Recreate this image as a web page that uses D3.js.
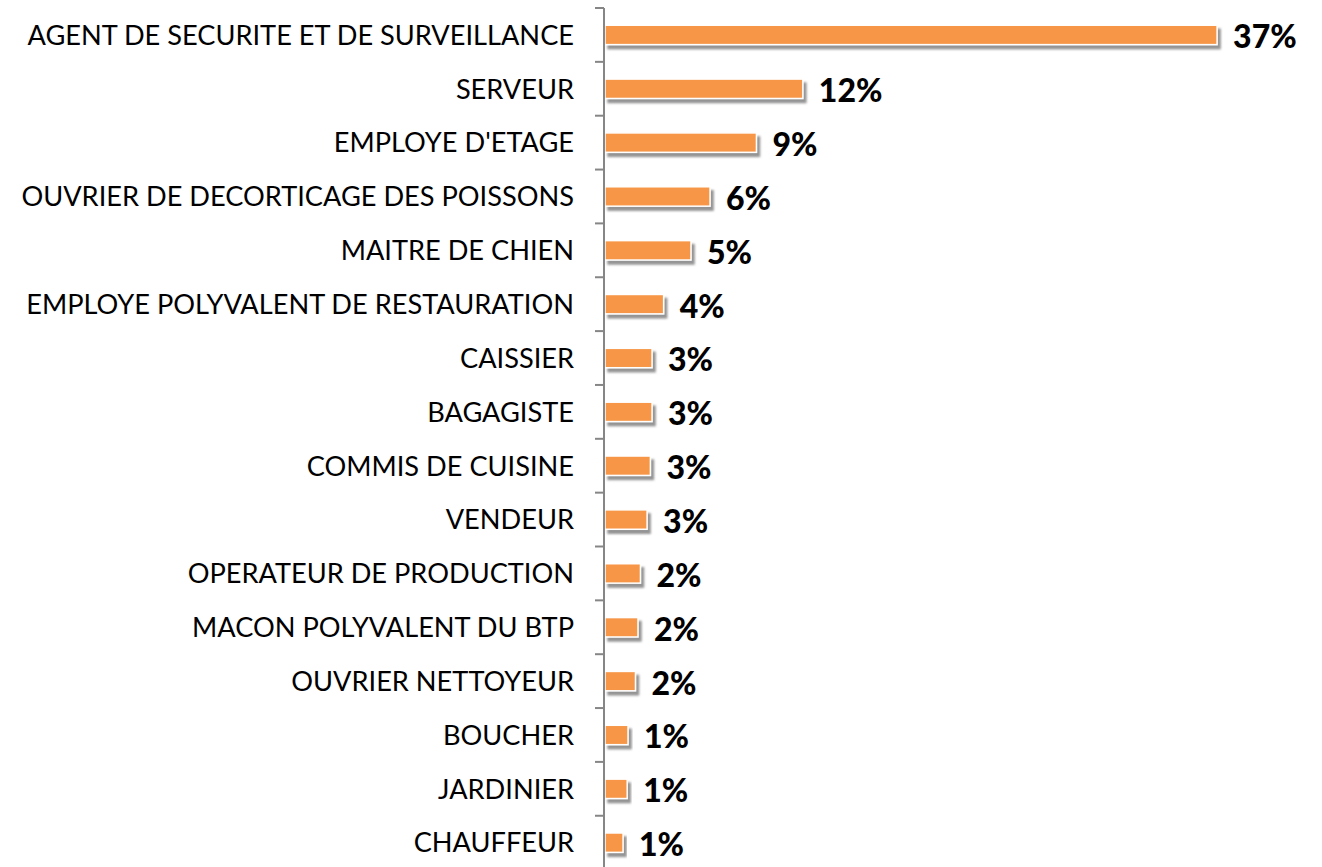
<!DOCTYPE html>
<html>
<head>
<meta charset="utf-8">
<script src="https://cdn.jsdelivr.net/npm/d3@7"></script>
<style>
  html, body { margin: 0; padding: 0; background: #fff; }
  svg { display: block; }
</style>
</head>
<body>
<svg id="chart" width="1322" height="867"></svg>
<script>
// Job titles, top to bottom
const categories = [
  "AGENT DE SECURITE ET DE SURVEILLANCE",
  "SERVEUR",
  "EMPLOYE D'ETAGE",
  "OUVRIER DE DECORTICAGE DES POISSONS",
  "MAITRE DE CHIEN",
  "EMPLOYE POLYVALENT DE RESTAURATION",
  "CAISSIER",
  "BAGAGISTE",
  "COMMIS DE CUISINE",
  "VENDEUR",
  "OPERATEUR DE PRODUCTION",
  "MACON POLYVALENT DU BTP",
  "OUVRIER NETTOYEUR",
  "BOUCHER",
  "JARDINIER",
  "CHAUFFEUR"
];
// Share of each job (percent)
const shares = [37.0, 12.0, 9.2, 6.4, 5.25, 3.6, 2.9, 2.9, 2.8, 2.6, 2.2, 2.05, 1.9, 1.45, 1.4, 1.15];

const data = categories.map((c, i) => ({ name: c, value: shares[i] }));

const svg = d3.select("#chart");
const axisX = 604;
const plotTop = 8, step = 53.85;

const y = d3.scaleBand()
  .domain(categories)
  .range([plotTop, plotTop + step * categories.length])
  .paddingInner(0.64)
  .paddingOuter(0.32);

const x = d3.scaleLinear()
  .domain([0, 40])
  .range([axisX, axisX + 40 * 16.57]);

const defs = svg.append("defs");
const f = defs.append("filter").attr("id", "shadow")
  .attr("x", "-10%").attr("y", "-50%").attr("width", "130%").attr("height", "250%");
f.append("feDropShadow")
  .attr("dx", 3).attr("dy", 4).attr("stdDeviation", 1.2)
  .attr("flood-color", "#707070").attr("flood-opacity", 0.75);

// Bars
svg.append("g").selectAll("rect")
  .data(data)
  .join("rect")
  .attr("x", x(0) + 1)
  .attr("y", d => y(d.name))
  .attr("width", d => x(d.value) - x(0) - 1)
  .attr("height", y.bandwidth())
  .attr("fill", "#F79646")
  .attr("stroke", "#ffffff")
  .attr("stroke-width", 1.5)
  .attr("filter", "url(#shadow)");

// Category axis
const axis = d3.axisLeft(y).tickSize(0).tickPadding(30);
const gAxis = svg.append("g")
  .attr("transform", `translate(${axisX},0)`)
  .call(axis);
gAxis.select(".domain").remove();
gAxis.selectAll("text")
  .attr("font-family", "Lato, 'Open Sans', sans-serif")
  .attr("font-size", 24)
  .attr("fill", "#000");

// Fit the category labels to the available width
const longest = d3.max(gAxis.selectAll("text").nodes(), n => n.getComputedTextLength());
const fs = 24 * 553 / longest;
gAxis.selectAll("text").attr("font-size", fs).attr("dy", "0.36em");

// Axis line and ticks between categories
const axisG = svg.append("g").attr("stroke", "#868686").attr("stroke-width", 2);
axisG.append("line")
  .attr("x1", axisX).attr("x2", axisX)
  .attr("y1", plotTop).attr("y2", plotTop + step * categories.length);
const boundaries = d3.range(categories.length + 1).map(i => plotTop + step * i);
axisG.selectAll("line.tick")
  .data(boundaries)
  .join("line")
  .attr("class", "tick")
  .attr("x1", axisX - 9).attr("x2", axisX)
  .attr("y1", d => d).attr("y2", d => d);

// Value labels
svg.append("g").selectAll("text")
  .data(data)
  .join("text")
  .attr("x", d => x(d.value) + 16)
  .attr("y", d => y(d.name) + y.bandwidth() / 2)
  .attr("dy", "0.42em")
  .attr("font-family", "Lato, 'Open Sans', sans-serif")
  .attr("font-weight", 900)
  .attr("font-size", 32)
  .attr("fill", "#000")
  .text(d => Math.round(d.value) + "%");
</script>
</body>
</html>
